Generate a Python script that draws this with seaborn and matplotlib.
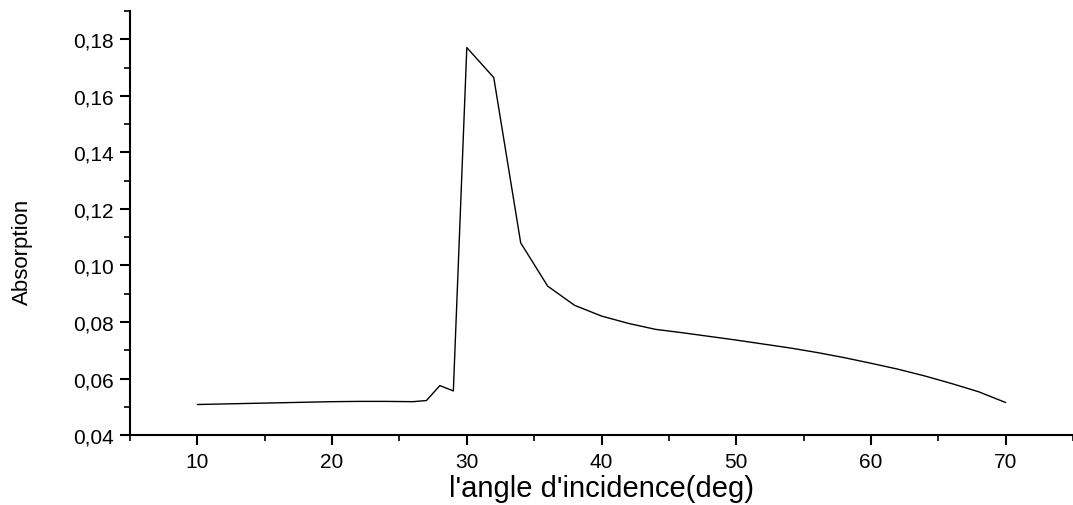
import matplotlib
matplotlib.use("Agg")
import matplotlib.pyplot as plt
import seaborn as sns
import pandas as pd
from matplotlib.ticker import MultipleLocator, FuncFormatter

angle = [10, 12, 14, 16, 18, 20, 22, 24, 26, 27, 28, 29, 30, 32, 34, 36, 38, 40,
         42, 44, 46, 48, 50, 52, 54, 56, 58, 60, 62, 64, 66, 68, 70]
absorption = [0.0508, 0.0510, 0.0512, 0.0514, 0.0516, 0.0518, 0.0519, 0.0519, 0.0518,
              0.0522, 0.0575, 0.0556, 0.1771, 0.1665, 0.1080, 0.0927, 0.0859, 0.0821,
              0.0795, 0.0774, 0.0762, 0.0749, 0.0736, 0.0722, 0.0708, 0.0692, 0.0674,
              0.0654, 0.0633, 0.0609, 0.0582, 0.0553, 0.0515]

df = pd.DataFrame({"angle": angle, "absorption": absorption})

sns.set_style("ticks")
plt.rcParams["font.family"] = ["Liberation Sans", "DejaVu Sans"]

fig = plt.figure(figsize=(10.73, 5.06), dpi=100)
ax = fig.add_axes([0.1212, 0.1383, 0.8788, 0.8377])
sns.lineplot(data=df, x="angle", y="absorption", ax=ax, color="black", linewidth=1.0)

ax.set_xlim(5, 75)
ax.set_ylim(0.04, 0.19)
ax.xaxis.set_major_locator(MultipleLocator(10))
ax.xaxis.set_minor_locator(MultipleLocator(5))
ax.yaxis.set_major_locator(MultipleLocator(0.02))
ax.yaxis.set_minor_locator(MultipleLocator(0.01))
ax.yaxis.set_major_formatter(FuncFormatter(lambda v, p: f"{v:.2f}".replace(".", ",")))

for s in ["top", "right"]:
    ax.spines[s].set_visible(False)
for s in ["left", "bottom"]:
    ax.spines[s].set_linewidth(1.5)
    ax.spines[s].set_color("black")

ax.tick_params(which="major", direction="out", length=7, width=1.5, labelsize=15, colors="black")
ax.tick_params(axis="x", which="major", pad=5)
ax.tick_params(axis="y", which="major", pad=5)
ax.tick_params(which="minor", direction="out", length=4, width=1.2, colors="black")

ax.set_xlabel("l'angle d'incidence(deg)", fontsize=21, color="black")
ax.xaxis.set_label_coords(0.5, -0.092)
ax.set_ylabel("Absorption", fontsize=16, color="black",
              family=["Liberation Sans Narrow", "Liberation Sans", "DejaVu Sans"])
ax.yaxis.set_label_coords(-0.103, 0.434)

fig.savefig("out.png", dpi=100)
